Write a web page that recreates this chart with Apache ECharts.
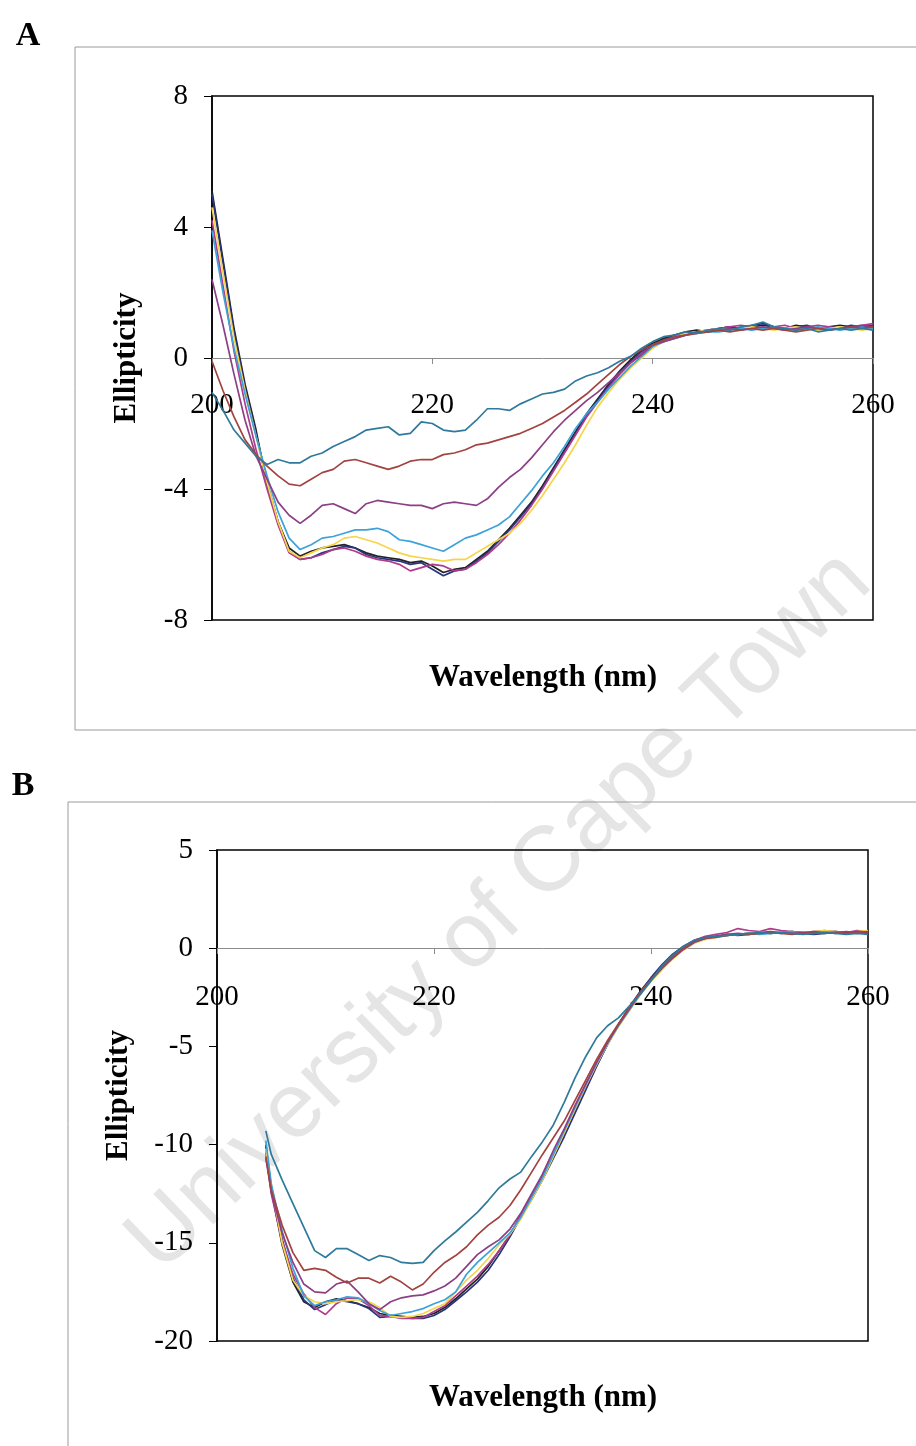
<!DOCTYPE html>
<html><head><meta charset="utf-8">
<script src="https://cdn.jsdelivr.net/npm/echarts@6/dist/echarts.min.js"></script>
<style>html,body{margin:0;padding:0;background:#fff}#c{width:916px;height:1446px}</style>
</head><body><div id="c"></div>
<script>
// ---------- Panel A data (wavelength nm, ellipticity) ----------
const wavelengthA = [200,201,202,203,204,205,206,207,208,209,
  210,211,212,213,214,215,216,217,218,219,
  220,221,222,223,224,225,226,227,228,229,
  230,231,232,233,234,235,236,237,238,239,
  240,241,242,243,244,245,246,247,248,249,
  250,251,252,253,254,255,256,257,258,259,260];
const aTeal = [-1.05,-1.6,-2.2,-2.6,-3.0,-3.25,-3.1,-3.2,-3.2,-3.0,
  -2.9,-2.7,-2.55,-2.4,-2.2,-2.15,-2.1,-2.35,-2.3,-1.95,
  -2.0,-2.2,-2.25,-2.2,-1.9,-1.55,-1.55,-1.6,-1.4,-1.25,
  -1.1,-1.05,-0.95,-0.7,-0.55,-0.45,-0.3,-0.1,0.05,0.3,
  0.5,0.65,0.7,0.8,0.75,0.85,0.9,0.85,0.95,1.0,
  1.1,0.95,0.9,0.85,0.9,0.8,0.85,0.9,0.85,0.9,0.85];
const aBrown = [-0.1,-1.0,-1.8,-2.5,-2.95,-3.3,-3.6,-3.85,-3.9,-3.7,
  -3.5,-3.4,-3.15,-3.1,-3.2,-3.3,-3.4,-3.3,-3.15,-3.1,
  -3.1,-2.95,-2.9,-2.8,-2.65,-2.6,-2.5,-2.4,-2.3,-2.15,
  -2.0,-1.8,-1.6,-1.35,-1.1,-0.8,-0.5,-0.2,0.05,0.25,
  0.4,0.55,0.65,0.7,0.75,0.8,0.85,0.8,0.85,0.9,
  0.85,0.9,0.85,0.8,0.85,0.9,0.85,0.9,0.95,0.9,0.95];
const aPurple = [2.4,1.0,-0.5,-1.9,-3.0,-3.7,-4.4,-4.8,-5.05,-4.8,
  -4.5,-4.45,-4.6,-4.75,-4.45,-4.35,-4.4,-4.45,-4.5,-4.5,
  -4.6,-4.45,-4.4,-4.45,-4.5,-4.3,-3.95,-3.65,-3.4,-3.05,
  -2.65,-2.25,-1.9,-1.6,-1.3,-1.05,-0.75,-0.45,-0.15,0.1,
  0.4,0.5,0.6,0.7,0.8,0.8,0.85,0.9,0.85,0.9,
  0.95,0.9,0.85,0.9,0.95,0.9,0.85,0.9,0.95,1.0,0.95];
const aLightBlue = [3.9,2.0,0.3,-1.1,-2.4,-3.6,-4.7,-5.5,-5.85,-5.7,
  -5.5,-5.45,-5.35,-5.25,-5.25,-5.2,-5.3,-5.55,-5.6,-5.7,
  -5.8,-5.9,-5.7,-5.5,-5.4,-5.25,-5.1,-4.85,-4.45,-4.05,
  -3.6,-3.2,-2.7,-2.15,-1.7,-1.35,-0.95,-0.6,-0.25,0.05,
  0.35,0.5,0.6,0.7,0.75,0.8,0.8,0.85,0.9,0.85,
  0.9,0.95,0.9,0.85,0.9,0.95,0.9,0.85,0.9,0.95,0.9];
const aYellow = [4.6,2.6,0.6,-1.0,-2.4,-3.8,-5.0,-5.9,-6.1,-5.95,
  -5.8,-5.7,-5.5,-5.45,-5.55,-5.65,-5.8,-5.95,-6.05,-6.1,
  -6.15,-6.2,-6.15,-6.15,-5.95,-5.75,-5.55,-5.35,-5.05,-4.65,
  -4.2,-3.7,-3.2,-2.65,-2.05,-1.5,-1.05,-0.65,-0.3,0.0,
  0.3,0.5,0.65,0.75,0.8,0.85,0.9,0.85,0.9,0.95,
  0.9,0.85,0.9,0.95,0.9,0.85,0.9,0.95,0.9,0.85,0.9];
const aNavy = [5.0,2.9,0.8,-0.9,-2.3,-3.8,-5.0,-5.9,-6.15,-6.1,
  -5.95,-5.85,-5.75,-5.8,-6.0,-6.1,-6.15,-6.2,-6.3,-6.25,
  -6.45,-6.65,-6.5,-6.45,-6.2,-5.95,-5.6,-5.25,-4.85,-4.45,
  -3.95,-3.4,-2.85,-2.3,-1.75,-1.3,-0.85,-0.45,-0.1,0.2,
  0.4,0.55,0.7,0.75,0.8,0.85,0.9,0.95,0.9,1.0,
  1.05,0.95,0.9,0.95,1.0,0.9,0.95,0.9,1.0,0.95,1.0];
const aMagenta = [4.2,2.2,0.2,-1.4,-2.8,-4.0,-5.1,-5.95,-6.15,-6.1,
  -6.0,-5.85,-5.8,-5.9,-6.05,-6.15,-6.2,-6.3,-6.5,-6.4,
  -6.3,-6.35,-6.5,-6.45,-6.25,-6.0,-5.7,-5.35,-4.95,-4.5,
  -4.0,-3.45,-2.9,-2.35,-1.8,-1.35,-0.9,-0.5,-0.15,0.15,
  0.35,0.5,0.65,0.75,0.8,0.85,0.9,0.95,1.0,0.95,
  0.9,0.95,1.0,0.9,0.95,1.0,0.95,0.9,0.95,1.0,1.05];
const aBlack = [5.1,3.0,0.9,-0.8,-2.2,-3.9,-5.0,-5.8,-6.05,-5.9,
  -5.8,-5.75,-5.7,-5.8,-5.95,-6.05,-6.1,-6.15,-6.25,-6.2,
  -6.35,-6.55,-6.45,-6.4,-6.15,-5.9,-5.55,-5.2,-4.8,-4.4,
  -3.9,-3.35,-2.8,-2.25,-1.7,-1.25,-0.8,-0.4,-0.05,0.25,
  0.45,0.6,0.7,0.8,0.85,0.8,0.9,0.95,0.9,0.95,
  1.0,0.95,0.9,1.0,0.95,0.9,0.95,1.0,0.95,0.9,0.95];

// ---------- Panel B data ----------
const wavelengthB = [204.5,205,206,207,208,209,
  210,211,212,213,214,215,216,217,218,219,
  220,221,222,223,224,225,226,227,228,229,
  230,231,232,233,234,235,236,237,238,239,
  240,241,242,243,244,245,246,247,248,249,
  250,251,252,253,254,255,256,257,258,259,260];
const bTeal = [-9.3,-10.5,-11.8,-13.0,-14.2,-15.4,
  -15.75,-15.3,-15.3,-15.6,-15.9,-15.65,-15.75,-16.0,-16.05,-16.0,
  -15.4,-14.9,-14.45,-13.95,-13.45,-12.85,-12.2,-11.75,-11.4,-10.6,
  -9.85,-9.0,-7.85,-6.6,-5.5,-4.55,-3.95,-3.55,-2.95,-2.35,
  -1.65,-0.9,-0.35,0.1,0.4,0.55,0.6,0.65,0.7,0.75,
  0.8,0.75,0.8,0.75,0.7,0.75,0.8,0.75,0.7,0.75,0.7];
const bBrown = [-10.6,-12.3,-14.1,-15.5,-16.4,-16.3,
  -16.4,-16.75,-17.05,-16.8,-16.8,-17.05,-16.7,-17.0,-17.4,-17.1,
  -16.5,-16.0,-15.65,-15.2,-14.6,-14.1,-13.7,-13.1,-12.3,-11.4,
  -10.5,-9.65,-8.8,-7.75,-6.7,-5.65,-4.7,-3.85,-3.0,-2.25,
  -1.6,-1.0,-0.45,0.0,0.35,0.5,0.55,0.65,0.7,0.7,
  0.75,0.8,0.75,0.7,0.75,0.8,0.75,0.8,0.85,0.8,0.85];
const bPurple = [-10.7,-12.4,-14.5,-16.0,-17.1,-17.5,
  -17.55,-17.1,-16.95,-17.5,-18.1,-18.4,-18.0,-17.8,-17.7,-17.65,
  -17.45,-17.2,-16.8,-16.2,-15.6,-15.2,-14.85,-14.3,-13.5,-12.5,
  -11.5,-10.3,-9.2,-8.0,-6.9,-5.8,-4.8,-3.9,-3.1,-2.3,
  -1.6,-1.0,-0.5,-0.05,0.3,0.5,0.6,0.7,0.75,0.7,
  0.8,0.85,0.8,0.75,0.8,0.85,0.8,0.75,0.8,0.85,0.8];
const bLightBlue = [-9.8,-12.0,-14.4,-16.3,-17.7,-18.2,
  -18.0,-17.9,-17.75,-17.8,-18.1,-18.45,-18.7,-18.6,-18.5,-18.35,
  -18.1,-17.9,-17.5,-16.6,-16.0,-15.5,-15.0,-14.5,-13.7,-12.7,
  -11.7,-10.5,-9.3,-8.1,-6.95,-5.85,-4.85,-3.95,-3.15,-2.35,
  -1.65,-1.05,-0.5,-0.05,0.3,0.5,0.6,0.65,0.7,0.75,
  0.7,0.75,0.8,0.85,0.8,0.75,0.8,0.85,0.8,0.75,0.8];
const bYellow = [-10.2,-12.0,-15.0,-16.9,-17.7,-18.0,
  -18.1,-18.0,-17.95,-17.9,-18.0,-18.3,-18.75,-18.8,-18.75,-18.6,
  -18.35,-18.1,-17.5,-16.9,-16.4,-15.8,-15.1,-14.55,-13.8,-12.8,
  -11.8,-10.6,-9.4,-8.2,-7.0,-5.9,-4.9,-4.0,-3.2,-2.4,
  -1.7,-1.1,-0.55,-0.1,0.25,0.45,0.55,0.65,0.7,0.75,
  0.8,0.85,0.8,0.75,0.8,0.85,0.9,0.85,0.8,0.85,0.9];
const bNavy = [-10.0,-12.2,-14.8,-16.8,-17.9,-18.4,
  -18.15,-17.9,-18.0,-18.1,-18.35,-18.8,-18.75,-18.8,-18.85,-18.85,
  -18.7,-18.4,-17.95,-17.5,-17.0,-16.4,-15.6,-14.7,-13.7,-12.8,
  -11.8,-10.7,-9.6,-8.4,-7.2,-6.0,-4.9,-3.9,-3.0,-2.2,
  -1.5,-0.85,-0.3,0.1,0.4,0.55,0.6,0.7,0.65,0.7,
  0.75,0.8,0.75,0.8,0.75,0.7,0.75,0.8,0.75,0.8,0.75];
const bMagenta = [-10.4,-12.5,-14.9,-16.6,-17.6,-18.3,
  -18.65,-18.1,-17.8,-17.85,-18.2,-18.7,-18.75,-18.85,-18.85,-18.8,
  -18.5,-18.2,-17.7,-17.2,-16.7,-16.1,-15.4,-14.6,-13.6,-12.6,
  -11.6,-10.5,-9.4,-8.2,-7.05,-5.9,-4.85,-3.9,-3.05,-2.3,
  -1.6,-0.95,-0.4,0.05,0.4,0.6,0.7,0.8,1.0,0.9,
  0.85,1.0,0.9,0.85,0.8,0.85,0.9,0.85,0.8,0.9,0.85];
const bBlack = [-10.1,-12.3,-15.1,-17.0,-18.0,-18.3,
  -18.0,-17.85,-17.95,-18.1,-18.3,-18.6,-18.7,-18.75,-18.8,-18.75,
  -18.6,-18.3,-17.85,-17.35,-16.85,-16.2,-15.4,-14.6,-13.6,-12.7,
  -11.7,-10.6,-9.5,-8.3,-7.1,-5.95,-4.9,-3.9,-3.05,-2.25,
  -1.55,-0.9,-0.35,0.05,0.35,0.5,0.6,0.65,0.7,0.75,
  0.8,0.75,0.8,0.85,0.8,0.75,0.8,0.85,0.8,0.8,0.85];

const yTicksA = {min: -8, max: 8, interval: 4};
const yTicksB = {min: -20, max: 5, interval: 5};
const xTicks = {min: 200, max: 260, interval: 20};

// ---------- build ----------
const serif = 'Liberation Serif';
const pair = (xs, ys) => xs.map((x, i) => [x, ys[i]]);
const seriesDefs = [
  ['black', '#222222', aBlack, bBlack],
  ['navy', '#26357c', aNavy, bNavy],
  ['magenta', '#b03a8c', aMagenta, bMagenta],
  ['yellow', '#f6d54a', aYellow, bYellow],
  ['lightblue', '#3ca2da', aLightBlue, bLightBlue],
  ['purple', '#8c3f84', aPurple, bPurple],
  ['brown', '#a3433f', aBrown, bBrown],
  ['teal', '#2f7a9c', aTeal, bTeal]
];
const series = [];
seriesDefs.forEach(([name, color, ya, yb]) => {
  series.push({type: 'line', name: name + ' A', xAxisIndex: 0, yAxisIndex: 0,
    data: pair(wavelengthA, ya), showSymbol: false, silent: true,
    lineStyle: {color: color, width: 1.7}, itemStyle: {color: color}, z: 3});
  series.push({type: 'line', name: name + ' B', xAxisIndex: 1, yAxisIndex: 1,
    data: pair(wavelengthB, yb), showSymbol: false, silent: true,
    lineStyle: {color: color, width: 1.7}, itemStyle: {color: color}, z: 3});
});

// x axis drawn across the plot at ellipticity 0 (offset = distance from grid bottom to the zero line)
function xAxisCfg(gridIndex, offset, margin) {
  return {
    type: 'value', gridIndex: gridIndex, position: 'bottom', offset: offset,
    min: xTicks.min, max: xTicks.max, interval: xTicks.interval,
    axisLine: {show: true, onZero: false, lineStyle: {color: '#8c8c8c', width: 1}},
    axisTick: {show: true, length: 6, lineStyle: {color: '#8c8c8c'}},
    axisLabel: {margin: margin, fontFamily: serif, fontSize: 29, color: '#000', showMinLabel: true, showMaxLabel: true},
    splitLine: {show: false}
  };
}
function yAxisCfg(gridIndex, t, nameGap) {
  return {
    type: 'value', gridIndex: gridIndex, min: t.min, max: t.max, interval: t.interval,
    name: 'Ellipticity', nameLocation: 'middle', nameGap: nameGap, nameRotate: 90,
    nameTextStyle: {fontFamily: serif, fontWeight: 'bold', fontSize: 31, color: '#000'},
    axisLine: {show: true, lineStyle: {color: '#000', width: 1.5}},
    axisTick: {show: true, length: 8, lineStyle: {color: '#000'}},
    axisLabel: {margin: 24, fontFamily: serif, fontSize: 29, color: '#000'},
    splitLine: {show: false}
  };
}

const chart = echarts.init(document.getElementById('c'), null, {renderer: 'canvas'});
chart.setOption({
  animation: false,
  backgroundColor: '#fff',
  grid: [
    {left: 212, top: 96, width: 661, height: 524, show: true, borderColor: '#000', borderWidth: 1.5, backgroundColor: 'transparent'},
    {left: 217, top: 850, width: 651, height: 491, show: true, borderColor: '#000', borderWidth: 1.5, backgroundColor: 'transparent'}
  ],
  xAxis: [xAxisCfg(0, -262, 33), xAxisCfg(1, -393, 35)],
  yAxis: [yAxisCfg(0, yTicksA, 70), yAxisCfg(1, yTicksB, 83)],
  series: series,
  graphic: [
    {type: 'text', x: 500, y: 912, rotation: 44 * Math.PI / 180, z: -10, silent: true,
      style: {text: 'University of Cape Town', fontFamily: 'Liberation Sans', fontSize: 92,
        fill: '#e5e5e5', align: 'center', verticalAlign: 'middle'}},
    {type: 'rect', shape: {x: 75, y: 47, width: 900, height: 683}, z: -5, silent: true,
      style: {fill: 'none', stroke: '#9a9a9a', lineWidth: 1}},
    {type: 'rect', shape: {x: 68, y: 802, width: 900, height: 700}, z: -5, silent: true,
      style: {fill: 'none', stroke: '#9a9a9a', lineWidth: 1}},
    {type: 'text', x: 28, y: 36, style: {text: 'A', fontFamily: serif, fontWeight: 'bold', fontSize: 34, fill: '#000', align: 'center', verticalAlign: 'middle'}},
    {type: 'text', x: 23, y: 786, style: {text: 'B', fontFamily: serif, fontWeight: 'bold', fontSize: 34, fill: '#000', align: 'center', verticalAlign: 'middle'}},
    {type: 'text', x: 543, y: 678, style: {text: 'Wavelength (nm)', fontFamily: serif, fontWeight: 'bold', fontSize: 31, fill: '#000', align: 'center', verticalAlign: 'middle'}},
    {type: 'text', x: 543, y: 1398, style: {text: 'Wavelength (nm)', fontFamily: serif, fontWeight: 'bold', fontSize: 31, fill: '#000', align: 'center', verticalAlign: 'middle'}}
  ]
});
</script>
</body></html>
